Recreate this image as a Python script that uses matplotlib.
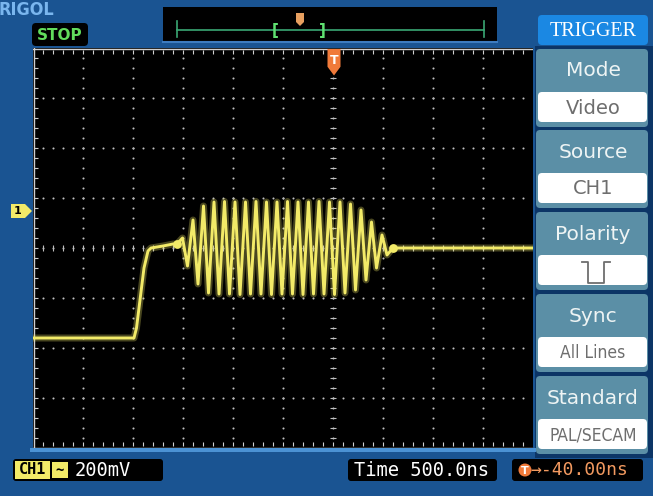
import matplotlib
matplotlib.use("Agg")
import matplotlib.pyplot as plt
from matplotlib.patches import FancyBboxPatch, Rectangle, Polygon, Circle
import numpy as np

# trace: time in ns (0 = trigger point), level in mV (0 = screen centre)
edge_t = [-3000, -1990, -1965, -1890, -1850, -1820, -1700, -1600]
edge_v = [-360, -360, -320, -80, -12, 0, 8, 16]
burst_t = [-1560, -1505, -1455, -1400, -1350, -1295, -1245, -1190, -1140, -1085,
           -1035, -980, -930, -875, -825, -770, -720, -665, -615, -560,
           -510, -455, -405, -350, -300, -245, -195, -140, -90, -35,
           15, 70, 120, 175, 225, 280, 330, 385, 435, 490, 540, 600]
burst_v = [16, 40, -72, 112, -144, 168, -180, 184, -184, 186,
           -184, 184, -186, 184, -184, 186, -184, 184, -186, 184,
           -184, 186, -184, 184, -186, 184, -184, 186, -184, 184,
           -186, 184, -180, 176, -168, 152, -128, 104, -80, 52, -28, 0]
tail_t = [2000]
tail_v = [0]

trace_t = edge_t + burst_t + tail_t
trace_v = edge_v + burst_v + tail_v

menu_titles = ["Mode", "Source", "Polarity", "Sync", "Standard"]
menu_values = ["Video", "CH1", "", "All Lines", "PAL/SECAM"]

BLUE = "#1a5492"
NAVY = "#0c3566"
TEAL = "#5b8fa6"
YELLOW = "#f2ea68"
ORANGE = "#f07a3a"
W, H = 653, 496

fig = plt.figure(figsize=(W / 100, H / 100), dpi=100)

# chrome, in pixel coordinates
bg = fig.add_axes([0, 0, 1, 1])
bg.set_xlim(0, W)
bg.set_ylim(H, 0)
bg.axis("off")


def box(ax, x0, y0, x1, y1, color, r=0, z=1, **kw):
    if r:
        p = FancyBboxPatch((x0, y0), x1 - x0, y1 - y0,
                           boxstyle=f"round,pad=0,rounding_size={r}",
                           fc=color, ec="none", zorder=z, **kw)
    else:
        p = Rectangle((x0, y0), x1 - x0, y1 - y0, fc=color, ec="none", zorder=z, **kw)
    ax.add_patch(p)


box(bg, 0, 0, W, H, BLUE, z=0)
box(bg, 535, 46, W, 458, NAVY, z=0.5)
box(bg, 30, 448, 536, 452, "#4b92d4")

bg.text(-1, 10, "RIGOL", color="#7ab6ee", fontsize=13, fontweight="bold",
        family="DejaVu Sans", fontstretch="condensed",
        va="center", ha="left", zorder=3)

# top time-base bar
box(bg, 163, 7, 497, 42, "black", z=2)
bg.plot([163, 497], [42, 42], color="#3d7cc0", lw=1.5, zorder=2)
bg.plot([177, 484], [30, 30], color="#3aa874", lw=1.2, zorder=3)
bg.plot([177, 177], [21, 37], color="#3aa874", lw=1.2, zorder=3)
bg.plot([484, 484], [21, 37], color="#3aa874", lw=1.2, zorder=3)
bg.text(275, 30, "[", color="#5fe070", fontsize=11, fontweight="bold",
        ha="center", va="center", zorder=3)
bg.text(322, 30, "]", color="#5fe070", fontsize=11, fontweight="bold",
        ha="center", va="center", zorder=3)
bg.add_patch(Polygon([[296, 13], [304, 13], [304, 22], [300, 26], [296, 22]],
                     fc="#e8a060", ec="none", zorder=4))

# STOP badge
box(bg, 32, 23, 88, 46, "black", r=4, z=4)
bg.text(60, 35, "STOP", color="#62dc5c", fontsize=11, fontweight="bold",
        family="DejaVu Sans", ha="center", va="center", zorder=5)

# right-hand TRIGGER menu
box(bg, 538, 15, 648, 45, "#1b88e3", r=4, z=2)
bg.text(593, 31, "TRIGGER", color="white", fontsize=14.5, family="Liberation Serif",
        ha="center", va="center", zorder=3)
tops = [49, 130, 212, 294, 376]
for top, title, val in zip(tops, menu_titles, menu_values):
    box(bg, 536, top, 648, top + 78, TEAL, r=4, z=2)
    box(bg, 538, top + 43, 647, top + 73, "white", r=4, z=3)
    bg.text(593, top + 22, title, color="#eef4f4", fontsize=14.5,
            family="DejaVu Sans", ha="center", va="center", zorder=4)
    if val:
        long = len(val) > 8
        bg.text(593, top + 59, val, color="#6e6e6e", fontsize=12.5 if long else 14,
                family="DejaVu Sans", fontstretch="condensed" if long else "normal",
                ha="center", va="center", zorder=4)
# negative pulse polarity symbol
bg.plot([582, 588, 588, 604, 604, 610], [262, 262, 283, 283, 262, 262],
        color="#6e6e6e", lw=1.3, zorder=4)

# bottom status boxes
box(bg, 13, 459, 163, 481, "black", r=3, z=2)
box(bg, 15, 461, 50, 479, YELLOW, z=3)
box(bg, 52, 462, 68, 478, YELLOW, z=3)
bg.text(32.5, 470, "CH1", color="black", fontsize=11, fontweight="bold",
        family="DejaVu Sans Mono", ha="center", va="center", zorder=4)
bg.text(60, 470, "~", color="black", fontsize=10, fontweight="bold",
        family="DejaVu Sans Mono", ha="center", va="center", zorder=4)
bg.text(75, 470, "200mV", color="white", fontsize=13.5,
        family="DejaVu Sans Mono", ha="left", va="center", zorder=4)

box(bg, 348, 459, 497, 481, "black", r=3, z=2)
bg.text(422, 470, "Time 500.0ns", color="white", fontsize=13.5,
        family="DejaVu Sans Mono", ha="center", va="center", zorder=4)

box(bg, 512, 459, 643, 481, "black", r=3, z=2)
bg.add_patch(Circle((525, 470), 6.5, fc=ORANGE, ec="none", zorder=4))
bg.text(525, 470.5, "T", color="white", fontsize=8, fontweight="bold",
        ha="center", va="center", zorder=5)
bg.text(530, 470, "\u2192-40.00ns", color="#f39a60", fontsize=13,
        family="DejaVu Sans Mono", ha="left", va="center", zorder=4)

# channel 1 reference marker on the left edge
bg.add_patch(Polygon([[11, 204], [25, 204], [32, 211], [25, 218], [11, 218]],
                     fc=YELLOW, ec="none", zorder=4))
bg.text(18, 211, "1", color="black", fontsize=8, fontweight="bold",
        ha="center", va="center", zorder=5)

# scope screen: 500 ns/div, 200 mV/div
sc = fig.add_axes([33 / W, (H - 448) / H, 500 / W, 400 / H])
sc.set_facecolor("black")
sc.set_xlim(-3000, 2000)
sc.set_ylim(-800, 800)
sc.set_xticks([])
sc.set_yticks([])
for s in sc.spines.values():
    s.set_visible(False)

DOT = "#c0c0c0"
for gx in np.arange(-2500, 2000, 500):
    yy = np.arange(-760, 800, 40)
    sc.scatter(np.full(yy.size, gx), yy, s=2.2, color=DOT, lw=0, zorder=1)
for gy in np.arange(-600, 800, 200):
    xx = np.arange(-2900, 2000, 100)
    sc.scatter(xx, np.full(xx.size, gy), s=2.2, color=DOT, lw=0, zorder=1)
# centre axes tick marks
yy = np.arange(-760, 800, 40)
sc.scatter(np.zeros(yy.size), yy, marker="_", s=14, color=DOT, lw=0.8, zorder=1)
xx = np.arange(-2900, 2000, 100)
sc.scatter(xx, np.zeros(xx.size), marker="|", s=14, color=DOT, lw=0.8, zorder=1)
# border with ticks
sc.plot([-3000, 2000], [798, 798], color="#d0d0d0", lw=1, zorder=2)
sc.plot([-3000, 2000], [-798, -798], color="#d0d0d0", lw=1, zorder=2)
sc.plot([-2995, -2995], [-800, 800], color="#d0d0d0", lw=1, zorder=2)
bt = np.arange(-2900, 2000, 100)
sc.scatter(bt, np.full(bt.size, 785), marker="|", s=12, color="#d0d0d0", lw=0.8, zorder=2)
sc.scatter(bt, np.full(bt.size, -785), marker="|", s=12, color="#d0d0d0", lw=0.8, zorder=2)
lt = np.arange(-760, 800, 40)
sc.scatter(np.full(lt.size, -2970), lt, marker="_", s=12, color="#d0d0d0", lw=0.8, zorder=2)

# the waveform
sc.plot(trace_t, trace_v, color=YELLOW, lw=5, alpha=0.3,
        solid_joinstyle="round", solid_capstyle="round", zorder=4)
sc.plot(trace_t, trace_v, color=YELLOW, lw=2.1,
        solid_joinstyle="round", solid_capstyle="round", zorder=5)
sc.scatter([burst_t[-1], burst_t[0]], [burst_v[-1], burst_v[0]], s=40,
           color=YELLOW, lw=0, zorder=5)

# trigger position marker at top of screen
sc.add_patch(Polygon([[-55, 796], [75, 796], [75, 725], [10, 690], [-55, 725]],
                     fc=ORANGE, ec="none", zorder=6))
sc.text(10, 748, "T", color="white", fontsize=9, fontweight="bold",
        ha="center", va="center", zorder=7)

fig.savefig("out.png", dpi=100)
